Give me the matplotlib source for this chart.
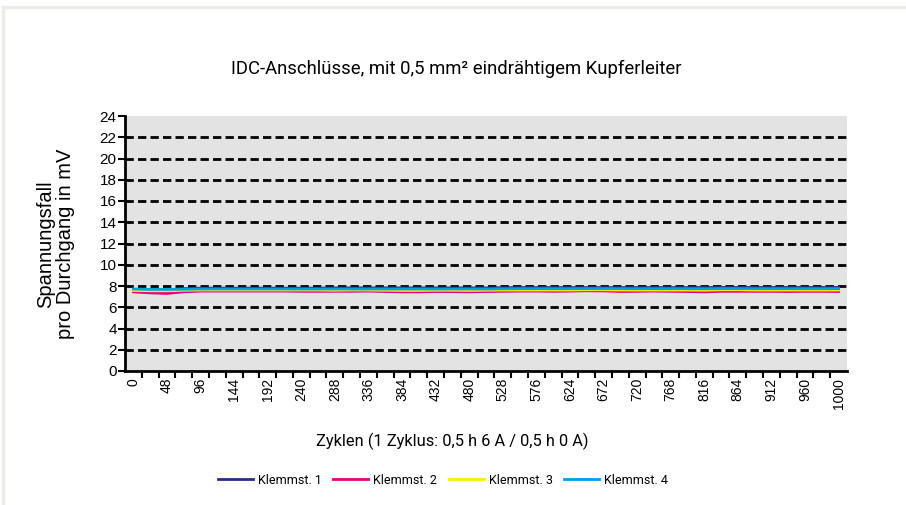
import matplotlib
matplotlib.use("Agg")
import matplotlib.pyplot as plt
from matplotlib import font_manager
from matplotlib.patches import Rectangle
from matplotlib.lines import Line2D

# Fonts: narrow sans for titles if available
names = {f.name for f in font_manager.fontManager.ttflist}
narrow = "Liberation Sans Narrow" if "Liberation Sans Narrow" in names else "Roboto"
plt.rcParams['font.family'] = ['Liberation Sans', 'DejaVu Sans']

# Data (categories on x axis, cycles)
cycles = list(range(0, 1000, 24)) + [1000]
tick_labels = [str(c) if i % 2 == 0 else "" for i, c in enumerate(cycles)]

klemm1 = [7.62, 7.58, 7.62, 7.75, 7.8, 7.8, 7.8, 7.8, 7.8, 7.8, 7.8, 7.8, 7.82, 7.82,
          7.82, 7.82, 7.82, 7.82, 7.82, 7.82, 7.82, 7.82, 7.84, 7.85, 7.85, 7.85, 7.85,
          7.85, 7.85, 7.85, 7.85, 7.85, 7.85, 7.85, 7.86, 7.86, 7.86, 7.86, 7.86, 7.86,
          7.86, 7.86, 7.86]
klemm2 = [7.45, 7.35, 7.3, 7.45, 7.52, 7.52, 7.52, 7.52, 7.52, 7.52, 7.5, 7.5, 7.5, 7.5,
          7.52, 7.48, 7.45, 7.45, 7.48, 7.47, 7.45, 7.48, 7.5, 7.52, 7.52, 7.5, 7.52,
          7.55, 7.54, 7.48, 7.5, 7.52, 7.5, 7.48, 7.45, 7.5, 7.5, 7.5, 7.5, 7.48, 7.5,
          7.5, 7.48]
klemm3 = [7.58, 7.55, 7.55, 7.6, 7.62, 7.62, 7.62, 7.62, 7.62, 7.62, 7.62, 7.62, 7.6,
          7.62, 7.62, 7.6, 7.58, 7.58, 7.6, 7.6, 7.58, 7.6, 7.62, 7.62, 7.62, 7.62, 7.62,
          7.65, 7.65, 7.62, 7.62, 7.62, 7.62, 7.62, 7.6, 7.65, 7.65, 7.62, 7.62, 7.62,
          7.62, 7.62, 7.62]
klemm4 = [7.72, 7.68, 7.68, 7.7, 7.72, 7.72, 7.72, 7.72, 7.72, 7.72, 7.72, 7.72, 7.72,
          7.72, 7.72, 7.72, 7.72, 7.72, 7.72, 7.72, 7.72, 7.72, 7.74, 7.75, 7.75, 7.75,
          7.75, 7.76, 7.76, 7.75, 7.75, 7.75, 7.75, 7.75, 7.74, 7.76, 7.76, 7.75, 7.75,
          7.75, 7.75, 7.75, 7.75]
series = [("Klemmst. 1", klemm1, "#2b2a84"),
          ("Klemmst. 2", klemm2, "#e6007e"),
          ("Klemmst. 3", klemm3, "#ffec00"),
          ("Klemmst. 4", klemm4, "#00a0e3")]

fig = plt.figure(figsize=(9.06, 5.05), dpi=100)
ax = fig.add_axes([125 / 906, 1 - 371 / 505, 722 / 906, 255 / 505])
ax.set_facecolor("#e3e3e3")

# light outer frame
fig.patches.append(Rectangle((3 / 906, -0.1), 1.2, 1 - 7 / 505 + 0.1, transform=fig.transFigure,
                             fill=False, edgecolor="#ecebe7", linewidth=2.5, zorder=0))

x = list(range(len(cycles)))
for label, vals, col in series:
    ax.plot(x, vals, color=col, linewidth=2, label=label, zorder=3)

for yv in range(2, 24, 2):
    ax.axhline(yv, color="black", linewidth=2, linestyle=(0, (3, 1.5)), zorder=2)

ax.set_xlim(-0.5, len(cycles) - 0.5)
ax.set_ylim(0, 24)
ax.set_yticks(range(0, 25, 2))
ax.set_xticks([i for i in x])
ax.set_xticklabels(tick_labels, rotation=90, fontsize=10)
ax.set_xticks([i - 0.5 for i in range(1, len(cycles))], minor=True)
ax.tick_params(axis='x', which='major', length=0, pad=5)
ax.tick_params(axis='x', which='minor', length=5, width=1.5, direction='out')
ax.tick_params(axis='y', length=5, width=1.5, direction='out', labelsize=11, pad=1)

for s in ["top", "right"]:
    ax.spines[s].set_visible(False)
ax.spines["left"].set_linewidth(2)
ax.spines["bottom"].set_linewidth(2)

fig.text(456 / 906, 1 - 69 / 505, "IDC-Anschlüsse, mit 0,5 mm² eindrähtigem Kupferleiter",
         ha="center", va="center", fontsize=13.3, family=[narrow, 'DejaVu Sans'])
fig.text(56 / 906, 1 - 244 / 505, "Spannungsfall\npro Durchgang in mV", rotation=90,
         ha="center", va="center", fontsize=14.5, linespacing=1.05)
fig.text(452 / 906, 1 - 441 / 505, "Zyklen (1 Zyklus: 0,5 h 6 A / 0,5 h 0 A)",
         ha="center", va="center", fontsize=11.8, family=[narrow, 'DejaVu Sans'])

handles = [Line2D([], [], color=col, linewidth=2) for _, _, col in series]
fig.legend(handles, [s[0] for s in series], loc="center", bbox_to_anchor=(443 / 906, 1 - 480 / 505),
           ncol=4, frameon=False, handlelength=2.8, handletextpad=0.4, columnspacing=0.9,
           prop={'family': [narrow, 'DejaVu Sans'], 'size': 9})

fig.savefig("out.png", dpi=100)
